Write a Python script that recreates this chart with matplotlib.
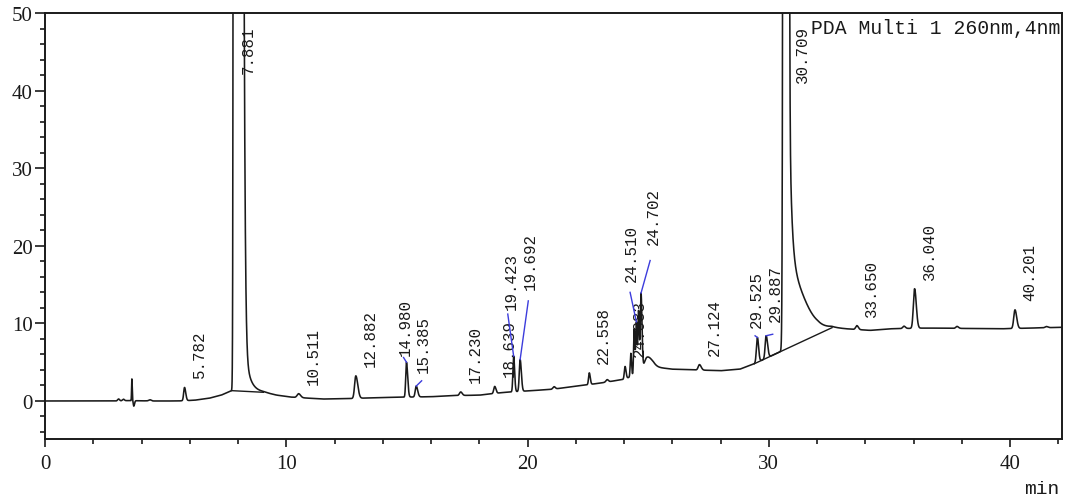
import numpy as np
import matplotlib
matplotlib.use("Agg")
import matplotlib.pyplot as plt
from matplotlib.ticker import MultipleLocator

# ---------------- data ----------------
# background (drifting baseline) knots: time [min], signal
bg_t = [0.0, 3.0, 3.4, 4.5, 5.5, 6.2, 6.8, 7.3, 7.74, 9.05, 9.6, 10.2, 11.5, 12.5,
        14.0, 16.0, 17.0, 18.0, 19.0, 20.0, 21.0, 22.0, 23.0, 24.0, 24.5, 25.2,
        26.0, 27.0, 28.0, 28.8, 29.4, 30.6, 31.4, 32.0, 32.6, 33.2, 34.2, 35.0,
        36.5, 39.6, 42.2]
bg_v = [0.0, 0.0, 0.05, 0.0, 0.0, 0.1, 0.35, 0.75, 1.33, 1.12, 0.75, 0.5, 0.25, 0.3,
        0.45, 0.55, 0.7, 0.75, 1.1, 1.3, 1.5, 1.9, 2.3, 2.8, 3.4, 4.4,
        4.1, 4.0, 3.9, 4.1, 4.8, 6.54, 7.9, 8.9, 9.45, 9.3, 9.1, 9.3,
        9.4, 9.3, 9.5]

# peaks: retention time, height above background, left / right width (sigma)
peak_rt = [3.05, 3.25, 3.60, 3.68, 4.35, 5.782, 7.881, 10.511, 12.882, 14.980,
           15.385, 17.230, 18.639, 19.423, 19.692, 21.10, 22.558, 23.30, 24.04,
           24.28, 24.42, 24.510, 24.60, 24.702, 24.95, 27.124, 29.525, 29.887,
           30.709, 30.709, 33.650, 35.60, 36.040, 37.80, 40.201, 41.50]
peak_h = [0.25, 0.2, 2.8, -0.7, 0.15, 1.7, 2000.0, 0.5, 2.9, 4.5,
          1.4, 0.45, 0.9, 4.6, 4.1, 0.3, 1.5, 0.3, 1.6,
          3.0, 6.0, 6.7, 8.0, 10.0, 1.6, 0.7, 3.2, 2.9,
          3000.0, 9.9, 0.5, 0.3, 5.1, 0.25, 2.4, 0.15]
peak_sl = [0.04, 0.04, 0.012, 0.02, 0.05, 0.035, 0.033, 0.06, 0.05, 0.03,
           0.04, 0.05, 0.04, 0.03, 0.035, 0.05, 0.03, 0.05, 0.03,
           0.025, 0.025, 0.025, 0.025, 0.03, 0.12, 0.05, 0.04, 0.04,
           0.049, 0.05, 0.05, 0.05, 0.05, 0.05, 0.05, 0.05]
peak_sr = [0.04, 0.04, 0.015, 0.03, 0.05, 0.05, 0.136, 0.08, 0.08, 0.05,
           0.06, 0.06, 0.05, 0.04, 0.05, 0.05, 0.04, 0.05, 0.04,
           0.03, 0.03, 0.03, 0.03, 0.04, 0.2, 0.07, 0.05, 0.06,
           0.049, 0.67, 0.06, 0.06, 0.07, 0.06, 0.07, 0.06]

# exponential tails of the big peaks: start time, amplitude, decay constant
tail_rt = [7.881, 30.709]
tail_amp = [40.0, 88.7]
tail_tau = [0.2, 0.1]

# integration baselines drawn under the two main peaks
ibase_t = [[7.74, 9.05], [29.4, 32.62]]
ibase_v = [[1.33, 1.12], [4.8, 9.45]]

# peak labels
label_rt = [5.782, 7.881, 10.511, 12.882, 14.980, 15.385, 17.230, 18.639, 19.423,
            19.692, 22.558, 24.04, 24.510, 24.702, 27.124, 29.525, 29.887, 30.709,
            33.650, 36.040, 40.201]
label_txt = ["5.782", "7.881", "10.511", "12.882", "14.980", "15.385", "17.230",
             "18.639", "19.423", "19.692", "22.558", "24.083", "24.510", "24.702",
             "27.124", "29.525", "29.887", "30.709", "33.650", "36.040", "40.201"]

# ---------------- layout of displaced labels (label x, label bottom, leader start) ----
displaced = {
    "14.980": (14.92, 5.9, 14.86, 5.6),
    "15.385": (15.67, 3.7, 15.61, 2.6),
    "19.423": (19.34, 11.9, 19.18, 11.2),
    "19.692": (20.10, 14.4, 20.03, 12.9),
    "24.510": (24.32, 15.5, 24.25, 14.0),
    "24.702": (25.20, 20.2, 25.08, 18.1),
    "29.525": (29.47, 9.5, 29.43, 8.4),
    "29.887": (30.26, 10.3, 30.16, 8.6),
}
top_labels = {"7.881": 8.41, "30.709": 31.38}

# ---------------- build trace ----------------
t = np.linspace(0, 42.15, 21076)
sig = np.interp(t, bg_t, bg_v)
for rt, h, sl, sr in zip(peak_rt, peak_h, peak_sl, peak_sr):
    s = np.where(t < rt, sl, sr)
    sig = sig + h * np.exp(-0.5 * ((t - rt) / s) ** 2)
for rt, a, tau in zip(tail_rt, tail_amp, tail_tau):
    dt = np.clip(t - rt, 0, None)
    sig = sig + np.where(t > rt, a * np.exp(-dt / tau), 0.0)

def apex(rt):
    m = (t > rt - 0.03) & (t < rt + 0.03)
    return sig[m].max()

# ---------------- draw ----------------
fig = plt.figure(figsize=(10.65, 5.02), dpi=100)
ax = fig.add_axes([45 / 1065, 62 / 502, 1017 / 1065, 426 / 502])
ink = "#1a1a1a"
blue = "#3c3cdc"

ax.plot(t, sig, color=ink, lw=1.15, zorder=3)
for bt, bv in zip(ibase_t, ibase_v):
    ax.plot(bt, bv, color=ink, lw=1.0, zorder=3)

lab_font = dict(family="Liberation Mono", size=11.3, color=ink)
for rt, txt in zip(label_rt, label_txt):
    if txt in top_labels:
        ax.text(top_labels[txt], 48.4, txt, rotation=90, ha="center", va="top",
                zorder=2, **lab_font)
    elif txt in displaced:
        lx, ly, sx, sy = displaced[txt]
        ax.text(lx, ly, txt, rotation=90, ha="center", va="bottom", zorder=2, **lab_font)
        ax.plot([sx, rt], [sy, apex(rt)], color=blue, lw=1.0, zorder=4)
    else:
        ax.text(rt + 0.6, apex(rt) + 1.3, txt, rotation=90, ha="center", va="bottom",
                zorder=2, **lab_font)

ax.text(0.753, 0.988, "PDA Multi 1 260nm,4nm", transform=ax.transAxes,
        ha="left", va="top", family="Liberation Mono", size=14.2, color=ink,
        clip_on=True, zorder=5)
fig.text(0.995, 0.008, "min", ha="right", va="bottom", family="Liberation Mono",
         size=14, color=ink)

ax.set_xlim(0, 42.15)
ax.set_ylim(-4.9, 50)
ax.xaxis.set_major_locator(MultipleLocator(10))
ax.xaxis.set_minor_locator(MultipleLocator(2))
ax.yaxis.set_major_locator(MultipleLocator(10))
ax.yaxis.set_minor_locator(MultipleLocator(2))
ax.tick_params(axis="y", which="major", direction="out", length=7.2, width=1.2,
               pad=1.5, labelsize=15, colors=ink)
ax.tick_params(axis="y", which="minor", direction="out", length=3.6, width=1.2, colors=ink)
ax.tick_params(axis="x", which="major", direction="out", length=5.8, width=1.2,
               pad=5, labelsize=15, colors=ink)
ax.tick_params(axis="x", which="minor", direction="out", length=3.6, width=1.2, colors=ink)
for lab in ax.get_xticklabels() + ax.get_yticklabels():
    lab.set_family("Liberation Serif")
for sp in ax.spines.values():
    sp.set_linewidth(1.4)
    sp.set_color(ink)

fig.savefig("out.png", dpi=100)
